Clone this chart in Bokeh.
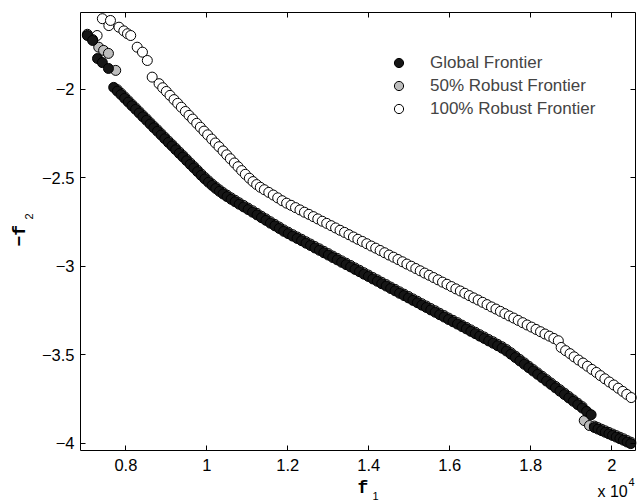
import math
from bokeh.plotting import figure
from bokeh.models import (Range1d, FixedTicker, LinearAxis, Legend, LegendItem, Label)
from bokeh.embed import file_html
from bokeh.resources import INLINE

# f1 values are in units of 10^4
global_x = [0.705, 0.718, 0.730, 0.742, 0.757,
            0.770, 0.779, 0.788, 0.797, 0.806, 0.815, 0.824, 0.833, 0.842, 0.851,
            0.860, 0.869, 0.878, 0.887, 0.896, 0.905, 0.914, 0.923, 0.932, 0.941,
            0.950, 0.959, 0.968, 0.977, 0.986, 0.995, 1.004, 1.013, 1.022, 1.031,
            1.040, 1.050, 1.060, 1.070, 1.080,
            1.091, 1.102, 1.113, 1.124, 1.135, 1.146, 1.157, 1.168, 1.179, 1.190,
            1.201, 1.212, 1.223, 1.234, 1.245, 1.256, 1.267, 1.278, 1.289, 1.300,
            1.311, 1.322, 1.333, 1.344, 1.355, 1.366, 1.377, 1.388, 1.399, 1.410,
            1.421, 1.432, 1.443, 1.454, 1.465, 1.476, 1.487, 1.498, 1.509, 1.520,
            1.531, 1.542, 1.553, 1.564, 1.575, 1.586, 1.597, 1.608, 1.619, 1.630,
            1.641, 1.652, 1.663, 1.674, 1.685, 1.696, 1.707, 1.718,
            1.729, 1.740, 1.751, 1.762, 1.773, 1.784, 1.795, 1.806, 1.817, 1.828,
            1.839, 1.850, 1.861, 1.872, 1.883, 1.894, 1.905, 1.916, 1.927, 1.938, 1.949,
            1.957, 1.966, 1.975, 1.984, 1.993, 2.002, 2.011, 2.020, 2.029, 2.038, 2.047]
global_y = [-1.697, -1.725, -1.827, -1.850, -1.883,
            -1.990, -2.011, -2.031, -2.052, -2.073, -2.094, -2.114, -2.135, -2.156, -2.176,
            -2.197, -2.218, -2.238, -2.259, -2.280, -2.301, -2.321, -2.342, -2.363, -2.383,
            -2.404, -2.425, -2.445, -2.466, -2.487, -2.507, -2.526, -2.544, -2.561, -2.577,
            -2.592, -2.607, -2.622, -2.636, -2.650,
            -2.665, -2.680, -2.695, -2.710, -2.726, -2.741, -2.757, -2.772, -2.787, -2.803,
            -2.816, -2.830, -2.843, -2.856, -2.870, -2.883, -2.897, -2.910, -2.924, -2.937,
            -2.951, -2.964, -2.978, -2.991, -3.004, -3.018, -3.031, -3.045, -3.058, -3.072,
            -3.085, -3.099, -3.112, -3.126, -3.139, -3.153, -3.166, -3.179, -3.193, -3.206,
            -3.220, -3.233, -3.247, -3.260, -3.274, -3.287, -3.301, -3.314, -3.327, -3.341,
            -3.354, -3.368, -3.381, -3.395, -3.408, -3.422, -3.435, -3.449,
            -3.463, -3.479, -3.497, -3.516, -3.535, -3.554, -3.573, -3.592, -3.611, -3.630,
            -3.649, -3.668, -3.687, -3.706, -3.725, -3.744, -3.763, -3.782, -3.801, -3.820, -3.839,
            -3.911, -3.920, -3.929, -3.938, -3.947, -3.956, -3.965, -3.974, -3.983, -3.993, -4.002]

robust50_x = [0.705, 0.718, 0.733, 0.745, 0.757, 0.775,
              0.779, 0.788, 0.797, 0.806, 0.815, 0.824, 0.833, 0.842, 0.851,
              0.860, 0.869, 0.878, 0.887, 0.896, 0.905, 0.914, 0.923, 0.932, 0.941,
              0.950, 0.959, 0.968, 0.977, 0.986, 0.995, 1.004, 1.013, 1.022, 1.031,
              1.040, 1.050, 1.060, 1.070, 1.080,
              1.091, 1.102, 1.113, 1.124, 1.135, 1.146, 1.157, 1.168, 1.179, 1.190,
              1.201, 1.212, 1.223, 1.234, 1.245, 1.256, 1.267, 1.278, 1.289, 1.300,
              1.311, 1.322, 1.333, 1.344, 1.355, 1.366, 1.377, 1.388, 1.399, 1.410,
              1.421, 1.432, 1.443, 1.454, 1.465, 1.476, 1.487, 1.498, 1.509, 1.520,
              1.531, 1.542, 1.553, 1.564, 1.575, 1.586, 1.597, 1.608, 1.619, 1.630,
              1.641, 1.652, 1.663, 1.674, 1.685, 1.696, 1.707, 1.718,
              1.729, 1.740, 1.751, 1.762, 1.773, 1.784, 1.795, 1.806, 1.817, 1.828,
              1.839, 1.850, 1.861, 1.872, 1.883, 1.894, 1.905, 1.916, 1.927,
              1.932, 1.945,
              1.957, 1.966, 1.975, 1.984, 1.993, 2.002, 2.011, 2.020, 2.029, 2.038, 2.047]
robust50_y = [-1.690, -1.720, -1.763, -1.781, -1.798, -1.894,
              -2.003, -2.023, -2.044, -2.065, -2.086, -2.106, -2.127, -2.148, -2.168,
              -2.189, -2.210, -2.230, -2.251, -2.272, -2.293, -2.313, -2.334, -2.355, -2.375,
              -2.396, -2.417, -2.437, -2.458, -2.479, -2.499, -2.518, -2.536, -2.553, -2.569,
              -2.584, -2.599, -2.614, -2.628, -2.642,
              -2.657, -2.672, -2.687, -2.702, -2.718, -2.733, -2.749, -2.764, -2.779, -2.795,
              -2.808, -2.822, -2.835, -2.848, -2.862, -2.875, -2.889, -2.902, -2.916, -2.929,
              -2.943, -2.956, -2.970, -2.983, -2.996, -3.010, -3.023, -3.037, -3.050, -3.064,
              -3.077, -3.091, -3.104, -3.118, -3.131, -3.145, -3.158, -3.171, -3.185, -3.198,
              -3.212, -3.225, -3.239, -3.252, -3.266, -3.279, -3.293, -3.306, -3.319, -3.333,
              -3.346, -3.360, -3.373, -3.387, -3.400, -3.414, -3.427, -3.441,
              -3.455, -3.471, -3.489, -3.508, -3.527, -3.546, -3.565, -3.584, -3.603, -3.622,
              -3.641, -3.660, -3.679, -3.698, -3.717, -3.736, -3.755, -3.774, -3.793,
              -3.872, -3.900,
              -3.903, -3.912, -3.921, -3.930, -3.939, -3.948, -3.957, -3.966, -3.975, -3.985, -3.994]

robust100_x = [0.729, 0.742, 0.758, 0.762, 0.783, 0.795, 0.804, 0.812, 0.828, 0.841,
               0.853, 0.865, 0.882,
               0.891, 0.900, 0.909, 0.919, 0.928, 0.937, 0.947, 0.956, 0.965, 0.975,
               0.984, 0.993, 1.002, 1.012, 1.021, 1.030, 1.040, 1.049, 1.058, 1.068,
               1.077, 1.086, 1.095, 1.105, 1.114, 1.123, 1.132,
               1.142, 1.153, 1.164, 1.175, 1.186, 1.197, 1.208, 1.219, 1.230, 1.241,
               1.252, 1.263, 1.274, 1.285, 1.296, 1.307, 1.318, 1.329, 1.340, 1.351,
               1.362, 1.373, 1.384, 1.395, 1.406, 1.417, 1.428, 1.439, 1.450, 1.461,
               1.472, 1.483, 1.494, 1.505, 1.516, 1.527, 1.538, 1.549, 1.560, 1.571,
               1.582, 1.593, 1.604, 1.615, 1.626, 1.637, 1.648, 1.659, 1.670, 1.681,
               1.692, 1.703, 1.714, 1.725, 1.736, 1.747, 1.758, 1.769, 1.780, 1.791,
               1.802, 1.813, 1.824, 1.835, 1.846, 1.857, 1.868,
               1.875, 1.886, 1.897, 1.907, 1.918, 1.929, 1.940, 1.951, 1.962, 1.972,
               1.983, 1.994, 2.005, 2.016, 2.027, 2.037, 2.048]
robust100_y = [-1.697, -1.602, -1.641, -1.612, -1.650, -1.671, -1.687, -1.697, -1.763, -1.791,
               -1.838, -1.932, -1.969,
               -1.992, -2.013, -2.035, -2.059, -2.080, -2.102, -2.126, -2.148, -2.169, -2.193,
               -2.215, -2.237, -2.258, -2.282, -2.304, -2.325, -2.349, -2.371, -2.393, -2.417,
               -2.438, -2.460, -2.481, -2.503, -2.522, -2.539, -2.554,
               -2.568, -2.583, -2.598, -2.614, -2.630, -2.644, -2.656, -2.669, -2.682, -2.695,
               -2.707, -2.720, -2.733, -2.746, -2.758, -2.771, -2.784, -2.797, -2.809, -2.822,
               -2.835, -2.848, -2.860, -2.873, -2.886, -2.898, -2.911, -2.924, -2.937, -2.949,
               -2.962, -2.975, -2.988, -3.000, -3.013, -3.026, -3.039, -3.051, -3.064, -3.077,
               -3.090, -3.102, -3.115, -3.128, -3.140, -3.153, -3.166, -3.179, -3.191, -3.204,
               -3.217, -3.230, -3.242, -3.255, -3.268, -3.281, -3.293, -3.306, -3.319, -3.332,
               -3.344, -3.357, -3.370, -3.383, -3.395, -3.408, -3.421,
               -3.459, -3.477, -3.494, -3.512, -3.530, -3.547, -3.565, -3.583, -3.600, -3.618,
               -3.636, -3.654, -3.671, -3.689, -3.707, -3.724, -3.742]

x_ticks = [0.8, 1.0, 1.2, 1.4, 1.6, 1.8, 2.0]
x_tick_labels = ["0.8", "1", "1.2", "1.4", "1.6", "1.8", "2"]
y_ticks = [-4.0, -3.5, -3.0, -2.5, -2.0]
y_tick_labels = ["\u22124", "\u22123.5", "\u22123", "\u22122.5", "\u22122"]
legend_labels = ["Global Frontier", "50% Robust Frontier", "100% Robust Frontier"]

# plotting box limits (data units) and the pixel box they occupy on the canvas
X_LO, X_HI = 0.688, 2.0586
Y_LO, Y_HI = -4.041, -1.567
W, H = 637, 501
BOX_L, BOX_R, BOX_T, BOX_B = 80, 635, 12, 450

kx = (X_HI - X_LO) / (BOX_R - BOX_L)
ky = (Y_HI - Y_LO) / (BOX_B - BOX_T)
x_range = Range1d(X_LO - BOX_L * kx, X_HI + (W - BOX_R) * kx)
y_range = Range1d(Y_LO - (H - BOX_B) * ky, Y_HI + BOX_T * ky)

FONT = "Liberation Sans"
MONO = "Liberation Mono"

p = figure(width=W, height=H, output_backend="svg", toolbar_location=None,
           x_range=x_range, y_range=y_range, x_axis_location=None, y_axis_location=None,
           min_border=0, min_border_left=0, min_border_right=0,
           min_border_top=0, min_border_bottom=0)
p.background_fill_color = "white"
p.border_fill_color = "white"
p.outline_line_color = None
p.grid.visible = False

def make_axis(ticks, labels, loc, bounds, show_labels):
    ax = LinearAxis(ticker=FixedTicker(ticks=ticks), fixed_location=loc, bounds=bounds)
    ax.axis_line_color = "black"
    ax.axis_line_width = 1
    ax.major_tick_in = 5
    ax.major_tick_out = 0
    ax.major_tick_line_color = "black"
    ax.minor_tick_line_color = None
    ax.major_label_overrides = {t: (l if show_labels else "") for t, l in zip(ticks, labels)}
    ax.major_label_text_font = FONT
    ax.major_label_text_font_size = "16.5px"
    ax.major_label_text_color = "black"
    return ax

bottom_ax = make_axis(x_ticks, x_tick_labels, Y_LO, (X_LO, X_HI), True)
bottom_ax.major_label_standoff = 8
p.add_layout(bottom_ax, "below")
left_ax = make_axis(y_ticks, y_tick_labels, X_LO, (Y_LO, Y_HI), True)
left_ax.major_label_standoff = 6
p.add_layout(left_ax, "left")
top_ax = make_axis(x_ticks, x_tick_labels, Y_HI, (X_LO, X_HI), False)
p.add_layout(top_ax, "above")
right_ax = make_axis(y_ticks, y_tick_labels, X_HI, (Y_LO, Y_HI), False)
p.add_layout(right_ax, "right")

r100 = p.scatter(robust100_x, robust100_y, marker="circle", size=10,
                 fill_color="white", line_color="black", line_width=1.0)
r50 = p.scatter(robust50_x, robust50_y, marker="circle", size=10,
                fill_color="#bdbdbd", line_color="black", line_width=1.0)
rg = p.scatter(global_x, global_y, marker="circle", size=10,
               fill_color="#161616", line_color="black", line_width=1.0)

legend = Legend(items=[LegendItem(label=legend_labels[0], renderers=[rg]),
                       LegendItem(label=legend_labels[1], renderers=[r50]),
                       LegendItem(label=legend_labels[2], renderers=[r100])],
                location=(386, 381), padding=0, margin=0, spacing=0,
                glyph_width=25, glyph_height=23, label_standoff=19,
                label_text_font=FONT, label_text_font_size="17px",
                border_line_color=None, background_fill_alpha=0)
p.add_layout(legend, "center")

def txt(x, y, s, size, font=FONT, bold=False, angle=0.0):
    p.add_layout(Label(x=x, y=H - y, x_units="screen", y_units="screen", text=s,
                       angle=angle, text_font=font,
                       text_font_style="bold" if bold else "normal",
                       text_font_size=size, text_color="black",
                       text_align="left", text_baseline="alphabetic"))

# axis titles and exponent note (positions are canvas pixels, y from the top)
txt(357, 487, "f", "18px", MONO, True)
txt(372, 495, "1", "11px")
txt(19, 246, "\u2212f", "18px", MONO, True, math.pi / 2)
txt(28, 219, "2", "11px", FONT, False, math.pi / 2)
txt(597, 491, "x 10", "16px")
txt(628, 481, "4", "11px")

open("out.html", "w").write(file_html(p, INLINE))
